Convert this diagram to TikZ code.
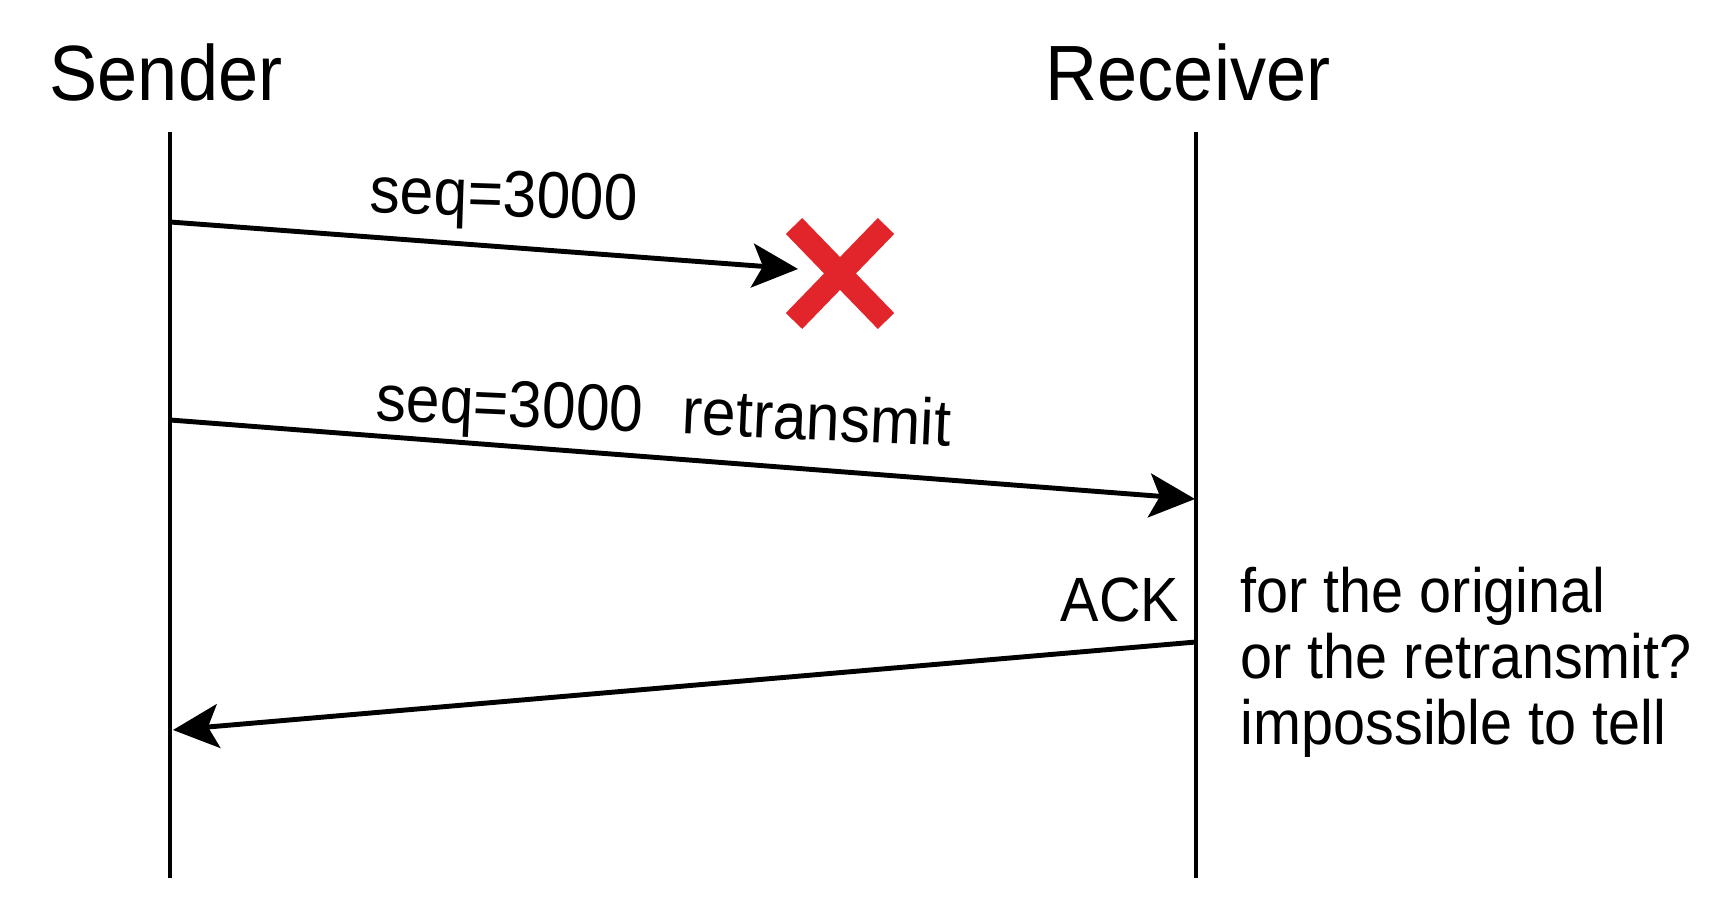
\documentclass[tikz,border=0pt]{standalone}
\usepackage{fontspec}
\setmainfont{Liberation Sans}[FakeStretch=0.92]
\usepackage{xcolor}
\usetikzlibrary{arrows.meta,positioning}
\definecolor{lostred}{HTML}{E2252B}
\tikzset{%
headnode/.style={font=\fontsize{22.3}{26}\selectfont, inner sep=0pt, anchor=base},
lifeline/.style={draw=black, line width=0.9pt},
msg/.style={draw=black, line width=1.4pt, -{Stealth[length=13pt,width=12.5pt,inset=3pt]}},
msglabel/.style={font=\fontsize{18.7}{22}\selectfont, inner sep=0pt, rotate=-1.8},
note/.style={font=\fontsize{17.8}{18.8}\selectfont, inner sep=0pt, align=left}
}

\begin{document}
\begin{tikzpicture}[x=0.1mm, y=-0.1mm,
		lost/.style={draw=lostred, line width=6.5pt}]
		\useasboundingbox (0,0) rectangle (1720,924);
		\node[headnode] (sender) at (166,101) {Sender};
		\node[headnode] (receiver) at (1188,101) {Receiver};
		
		\coordinate (stop) at (170,132);
		\coordinate (sbot) at (170,878);
		\coordinate (rtop) at (1196,132);
		\coordinate (rbot) at (1196,878);
		\draw[lifeline] (stop) -- (sbot);
		\draw[lifeline] (rtop) -- (rbot);
		
		\coordinate (sone) at (170,222);
		\coordinate (drop) at (798,269);
		\coordinate (stwo) at (170,420);
		\coordinate (rtwo) at (1195,499);
		\coordinate (rthree) at (1196,642);
		\coordinate (sthree) at (173,730);
		
		\draw[msg] (sone) -- node[msglabel, pos=0.53, above=4pt] {seq=3000} (drop);
		\draw[msg] (stwo) -- node[msglabel, pos=0.48, above=2.5pt, rotate=-0.8] {seq=3000\hspace{0.6em}retransmit} (rtwo);
		\draw[msg] (rthree) -- (sthree);
		
		% lost segment
		\draw[lost] (794,226) -- (886,321) (886,226) -- (794,321);
		
		\node[note, anchor=base east] (ack) at (1180,622) {ACK};
		\node[note, anchor=north west] (why) at (1240,566) {for the original\\or the retransmit?\\impossible to tell};
	\end{tikzpicture}
\end{document}
